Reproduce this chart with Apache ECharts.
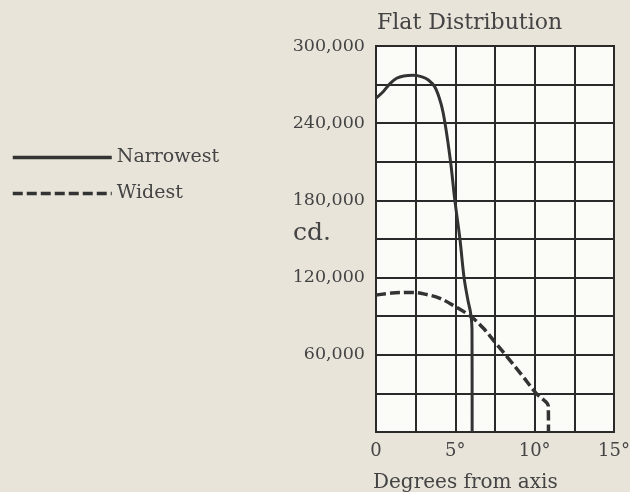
<!DOCTYPE html>
<html>
<head>
<meta charset="utf-8">
<script src="https://cdn.jsdelivr.net/npm/echarts@6/dist/echarts.min.js"></script>
<style>
  html, body { margin: 0; padding: 0; background: #e8e4da; }
  #chart { width: 630px; height: 492px; }
</style>
</head>
<body>
<div id="chart"></div>
<script>
// Narrowest beam: degrees from axis / candela
const narrowDeg = [0, 0.45, 0.9, 1.3, 1.75, 2.35, 2.9, 3.3, 3.72, 4.1, 4.35, 4.7, 4.97, 5.29, 5.55, 5.8, 5.97, 6.05, 6.06];
const narrowCd = [259500, 264500, 271000, 274900, 276700, 277200, 276000, 273600, 268000, 255000, 240000, 210000, 180000, 150000, 120000, 102000, 92000, 80000, 0];

// Widest beam
const wideDeg = [0, 1, 2.3, 3.2, 4.03, 5, 6, 6.77, 7.56, 8.43, 9.27, 10.1, 10.7, 10.86, 10.87];
const wideCd = [106500, 108000, 108500, 106800, 103900, 97400, 89600, 80600, 68900, 55900, 43000, 30000, 23500, 20300, 0];

const xLabels = [0, 5, 10, 15];
const yLabels = [60000, 120000, 180000, 240000, 300000];

const font = 'DejaVu Serif';
const ink = '#333';
const textInk = '#444';

function pairs(xs, ys) {
    return xs.map((x, i) => [x, ys[i]]);
}
function withCommas(v) {
    return String(v).replace(/\B(?=(\d{3})+(?!\d))/g, ',');
}

const myChart = echarts.init(document.getElementById('chart'));

const option = {
    backgroundColor: '#e8e4da',
    animation: false,
    title: [
        { text: 'Flat Distribution', left: 372, top: 7,
          textStyle: { fontFamily: font, fontWeight: 'normal', fontSize: 22, color: textInk } },
        { text: 'Degrees from axis', left: 368, top: 468,
          textStyle: { fontFamily: font, fontWeight: 'normal', fontSize: 20, color: textInk } },
        { text: 'cd.', left: 288, top: 216,
          textStyle: { fontFamily: font, fontWeight: 'normal', fontSize: 25, color: textInk } }
    ],
    legend: {
        orient: 'vertical',
        left: 11,
        top: 148,
        padding: 0,
        itemWidth: 99,
        itemHeight: 14,
        itemGap: 17,
        itemStyle: { opacity: 0 },
        lineStyle: { width: 3.5 },
        textStyle: { fontFamily: font, fontSize: 19, color: textInk },
        data: ['Narrowest', 'Widest']
    },
    grid: {
        left: 376, right: 16, top: 46, bottom: 60,
        outerBoundsMode: 'none',
        show: true,
        backgroundColor: '#fbfbf8',
        borderColor: '#2a2a2a',
        borderWidth: 2
    },
    xAxis: {
        type: 'value',
        min: 0, max: 15, interval: 2.5,
        axisLine: { show: false },
        axisTick: { show: false },
        axisLabel: {
            margin: 10,
            fontFamily: font, fontSize: 18, color: textInk,
            formatter: v => xLabels.includes(v) ? (v === 0 ? '0' : v + '°') : ''
        },
        splitLine: { lineStyle: { color: '#2a2a2a', width: 2 } }
    },
    yAxis: {
        type: 'value',
        min: 0, max: 300000, interval: 30000,
        axisLine: { show: false },
        axisTick: { show: false },
        axisLabel: {
            margin: 11,
            fontFamily: font, fontSize: 17.5, color: textInk,
            formatter: v => yLabels.includes(v) ? withCommas(v) : ''
        },
        splitLine: { lineStyle: { color: '#2a2a2a', width: 2 } }
    },
    series: [
        {
            name: 'Narrowest',
            type: 'line',
            data: pairs(narrowDeg, narrowCd),
            symbol: 'none',
            smooth: 0.35,
            itemStyle: { color: ink },
            lineStyle: { color: ink, width: 3 }
        },
        {
            name: 'Widest',
            type: 'line',
            data: pairs(wideDeg, wideCd),
            symbol: 'none',
            smooth: 0.35,
            itemStyle: { color: ink },
            lineStyle: { color: ink, width: 3.5, type: [10, 4] }
        }
    ]
};

myChart.setOption(option);
</script>
</body>
</html>
